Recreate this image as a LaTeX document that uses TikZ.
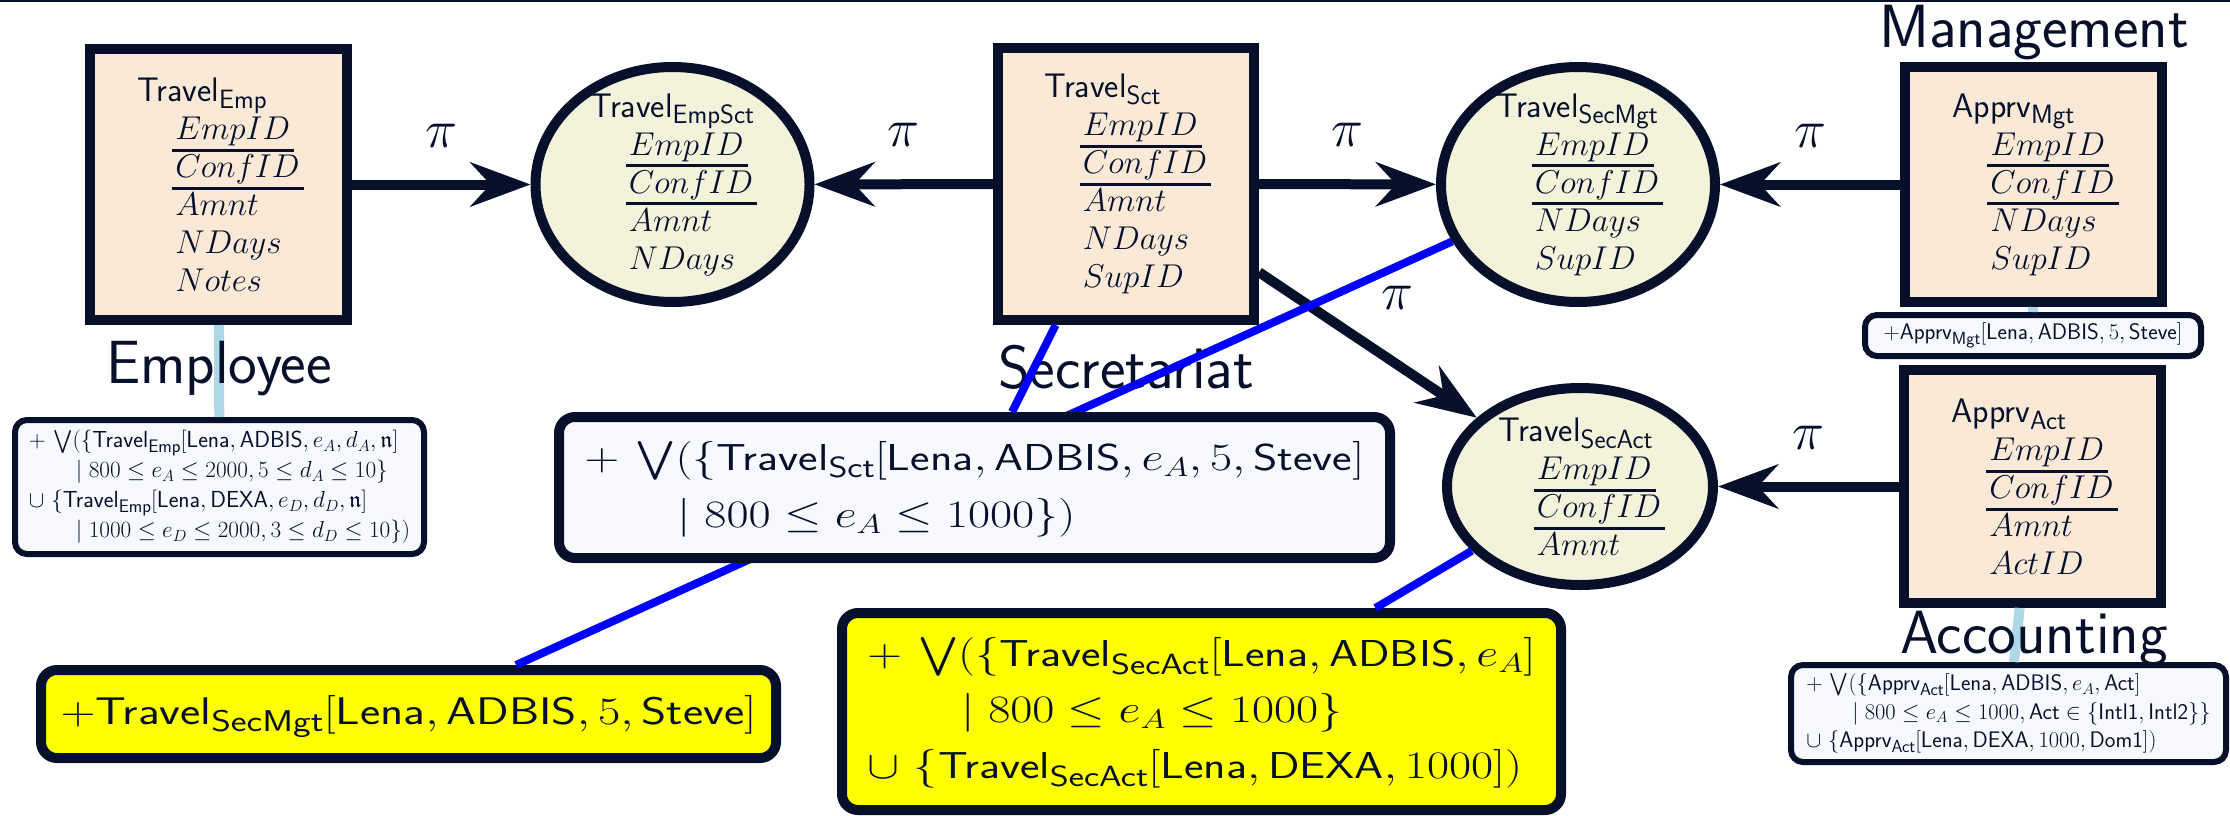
\RequirePackage{fix-cm}
\documentclass[tikz,border=0pt]{standalone}
\usepackage{amsmath,amssymb,graphicx}
\usetikzlibrary{arrows.meta,shapes.geometric}
\definecolor{dk}{HTML}{06102A}
\definecolor{peach}{HTML}{FAE9D7}
\definecolor{bei}{HTML}{F3F3DC}
\definecolor{gw}{HTML}{F8F8FF}
\definecolor{lb}{HTML}{ADD8E6}
\definecolor{bl}{HTML}{0000FF}
\definecolor{yl}{HTML}{FFFF00}
\def\sfsz{10}
\newcommand\setf[3]{\fontsize{#1}{#3}\selectfont\def\sfsz{#2}}
\newcommand\SF[1]{\mbox{\fontsize{\sfsz}{\sfsz}\sffamily\selectfont #1}}
\newcommand\SB[1]{\raisebox{-0.2\dimexpr\sfsz pt\relax}{\fontsize{\fpeval{0.78*\sfsz}}{\sfsz}\sffamily\selectfont #1}}
\newcommand\UK[1]{\setbox0\hbox{$#1$}\rlap{\kern-3pt\smash{\rule[-12.2pt]{\dimexpr\wd0+7pt\relax}{3pt}}}\box0}
\newcommand\atk[1]{\hspace*{38pt}\UK{#1}}
\newcommand\att[1]{\hspace*{38pt}$#1$}
\newcommand\xs[2]{\scalebox{#1}[1]{\begin{tabular}{@{}l@{}}#2\end{tabular}}}
\tikzset{
  rel/.style={draw=dk, line width=10pt, fill=peach, inner sep=0pt},
  ell/.style={ellipse, draw=dk, line width=10pt, fill=bei, inner sep=0pt},
  reltxt/.style={align=left, inner sep=0pt, text=dk, font=\setf{33}{34}{38}},
  fsm/.style={draw=dk, line width=6pt, fill=gw, rounded corners=12pt, inner sep=0pt},
  flg/.style={draw=dk, line width=10pt, rounded corners=16pt, inner sep=0pt},
  ftxt/.style={align=left, inner sep=0pt, text=dk},
  arr/.style={draw=dk, line width=10pt, -{Stealth[length=60pt,width=44pt,inset=20pt]}},
  pilab/.style={font=\fontsize{54}{54}\selectfont, text=dk, inner sep=0pt},
  big/.style={font=\sffamily\fontsize{61}{64}\selectfont, text=dk, inner sep=0pt},
  lbl/.style={draw=lb, line width=10pt},
  bll/.style={draw=bl, line width=8pt}
}
\begin{document}
\begin{tikzpicture}[x=1pt, y=-1pt]
\useasboundingbox (0,0) rectangle (2230,816);
\fill[dk] (0,-2) rectangle (2230,2);
% relations
\node[rel, minimum width=257pt, minimum height=271pt,
  label={[reltxt]center:{\SF{Travel}\SB{Emp}\\ \atk{EmpID}\\ \atk{ConfID}\\ \att{Amnt}\\ \att{NDays}\\ \att{Notes}}}]
  (E1) at (218.5,184.5) {};
\node[rel, minimum width=256pt, minimum height=272pt,
  label={[reltxt]center:{\SF{Travel}\SB{Sct}\\ \atk{EmpID}\\ \atk{ConfID}\\ \att{Amnt}\\ \att{NDays}\\ \att{SupID}}}]
  (S1) at (1126,184) {};
\node[rel, minimum width=257pt, minimum height=235pt,
  label={[reltxt]center:{\SF{Apprv}\SB{Mgt}\\ \atk{EmpID}\\ \atk{ConfID}\\ \att{NDays}\\ \att{SupID}}}]
  (M1) at (2033.5,184.5) {};
\node[rel, minimum width=257pt, minimum height=233pt,
  label={[reltxt]center:{\SF{Apprv}\SB{Act}\\ \atk{EmpID}\\ \atk{ConfID}\\ \att{Amnt}\\ \att{ActID}}}]
  (A1) at (2032.5,486.5) {};
\node[ell, minimum width=274pt, minimum height=235pt,
  label={[reltxt]center:{\SF{Travel}\SB{EmpSct}\\ \atk{EmpID}\\ \atk{ConfID}\\ \att{Amnt}\\ \att{NDays}}}]
  (ES) at (672.5,184.5) {};
\node[ell, minimum width=274pt, minimum height=235pt,
  label={[reltxt]center:{\SF{Travel}\SB{SecMgt}\\ \atk{EmpID}\\ \atk{ConfID}\\ \att{NDays}\\ \att{SupID}}}]
  (SM) at (1578,184.5) {};
\node[ell, minimum width=266pt, minimum height=197pt,
  label={[reltxt]center:{\SF{Travel}\SB{SecAct}\\ \atk{EmpID}\\ \atk{ConfID}\\ \att{Amnt}}}]
  (SA) at (1580,486.5) {};
% formula boxes (except FS)
\node[fsm, minimum width=409pt, minimum height=134pt,
  label={[ftxt, font=\setf{23.2}{23.2}{30}]center:{$+\,\bigvee(\{\SF{Travel}\SB{Emp}[\SF{Lena},\SF{ADBIS},e_A,d_A,\mathfrak{n}]$\\
  \hspace*{47pt}$\mid 800\le e_A\le 2000, 5\le d_A\le 10\}$\\
  $\cup\ \{\SF{Travel}\SB{Emp}[\SF{Lena},\SF{DEXA},e_D,d_D,\mathfrak{n}]$\\
  \hspace*{47pt}$\mid 1000\le e_D\le 2000, 3\le d_D\le 10\})$}}]
  (FE) at (219.5,487) {};
\node[fsm, minimum width=336pt, minimum height=41pt,
  label={[ftxt, font=\setf{22.5}{22.5}{25}]center:{$+\SF{Apprv}\SB{Mgt}[\SF{Lena},\SF{ADBIS},5,\SF{Steve}]$}}]
  (FM) at (2033,335.5) {};
\node[fsm, minimum width=435pt, minimum height=97pt,
  label={[ftxt, font=\setf{22.5}{22.5}{28.5}]center:{$+\,\bigvee(\{\SF{Apprv}\SB{Act}[\SF{Lena},\SF{ADBIS},e_A,\SF{Act}]$\\
  \hspace*{46pt}$\mid 800\le e_A\le 1000,\SF{Act}\in\{\SF{Intl1},\SF{Intl2}\}\}$\\
  $\cup\ \{\SF{Apprv}\SB{Act}[\SF{Lena},\SF{DEXA},1000,\SF{Dom1}])$}}]
  (FA) at (2008.5,713.5) {};
\node[flg, fill=yl, minimum width=735pt, minimum height=88pt,
  label={[ftxt, font=\setf{38.8}{38.5}{50}]center:{\xs{1.25}{$+\SF{Travel}\SB{SecMgt}[\SF{Lena},\SF{ADBIS},5,\SF{Steve}]$}}}]
  (Y1) at (408.5,714) {};
\node[flg, fill=yl, minimum width=719pt, minimum height=197pt,
  label={[ftxt, font=\setf{38.8}{37.5}{56}]center:{\xs{1.24}{$+\,\bigvee(\{\SF{Travel}\SB{SecAct}[\SF{Lena},\SF{ADBIS},e_A]$\\
  \hspace*{76pt}$\mid 800\le e_A\le 1000\}$\\
  $\cup\ \{\SF{Travel}\SB{SecAct}[\SF{Lena},\SF{DEXA},1000])$}}}]
  (Y2) at (1201.5,711.5) {};
% arrows
\draw[arr] (E1) -- node[pilab, midway, yshift=49pt]{$\pi$} (ES);
\draw[arr] (S1) -- node[pilab, midway, yshift=49pt]{$\pi$} (ES);
\draw[arr] (S1) -- node[pilab, midway, yshift=49pt]{$\pi$} (SM);
\draw[arr] (M1) -- node[pilab, midway, yshift=49pt]{$\pi$} (SM);
\draw[arr] (A1) -- node[pilab, midway, yshift=49pt]{$\pi$} (SA);
\draw[arr] (S1) -- node[pilab, midway, xshift=30pt, yshift=47pt]{$\pi$} (SA);
% light blue links
\draw[lbl] (E1) -- (FE);
\draw[lbl] (M1) -- (FM);
\draw[lbl] (A1) -- (FA);
% big labels
\node[big, anchor=base] (lE) at (219,383) {Employee};
\node[big, anchor=base] (lS) at (1126,388) {Secretariat};
\node[big, anchor=base] (lM) at (2034,48) {Management};
\node[big, anchor=base] (lA) at (2034,653) {Accounting};
% blue links
\draw[bll] (SM) -- (Y1);
\node[flg, fill=gw, minimum width=831pt, minimum height=141pt,
  label={[ftxt, font=\setf{38.8}{37.5}{57}]center:{\xs{1.24}{$+\,\bigvee(\{\SF{Travel}\SB{Sct}[\SF{Lena},\SF{ADBIS},e_A,5,\SF{Steve}]$\\
  \hspace*{75pt}$\mid 800\le e_A\le 1000\})$}}}]
  (FS) at (974.5,487.5) {};
\draw[bll] (S1) -- (FS);
\draw[bll] (SA) -- (Y2);
\end{tikzpicture}
\end{document}
